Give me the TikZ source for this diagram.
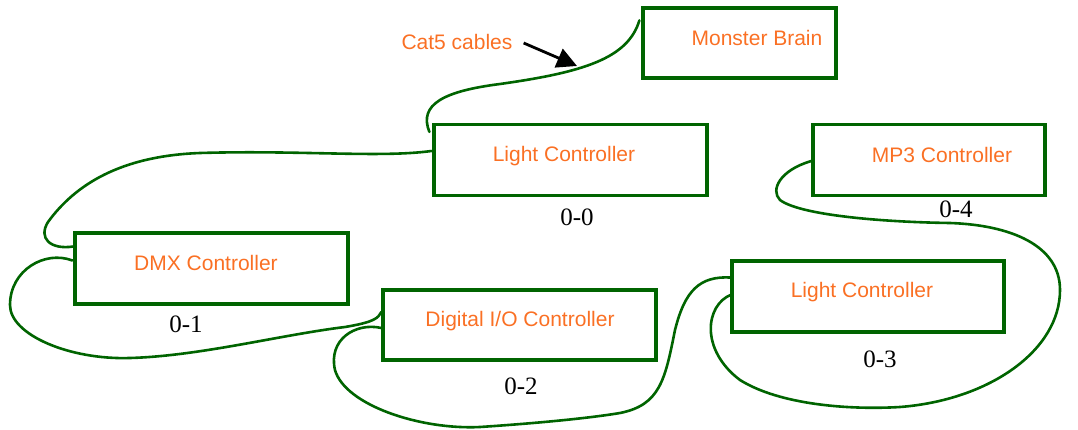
\documentclass[tikz,border=0pt]{standalone}
\usepackage{fontspec}
\setmainfont{Liberation Serif}
\newfontfamily\arialfont{Liberation Sans}
\usetikzlibrary{calc,arrows.meta}
\definecolor{boxgreen}{RGB}{0,100,0}
\definecolor{txtorange}{RGB}{250,112,36}
\tikzset{
  unitbox/.style={draw=boxgreen, line width=3.2pt, inner sep=0pt, minimum width=#1},
  unitname/.style={text=txtorange, font=\arialfont\fontsize{21}{25}\selectfont, inner sep=0pt},
  addr/.style={text=black, font=\fontsize{25}{29}\selectfont, inner sep=0pt},
  cable/.style={draw=boxgreen, line width=2.6pt, line cap=round},
  pointer/.style={draw=black, line width=2.8pt, -{Triangle[length=20pt,width=20pt]}}
}
\begin{document}
\begin{tikzpicture}[x=1pt,y=-1pt]
\useasboundingbox (0,0) rectangle (1078,430);

% controller boxes
\node[unitbox=193pt, minimum height=70pt] (mb)  at (739.5,43) {};
\node[unitbox=273pt, minimum height=71pt] (lc0) at (570.5,160) {};
\node[unitbox=232pt, minimum height=71pt] (mp3) at (929,160) {};
\node[unitbox=273pt, minimum height=71pt] (dmx) at (211.5,268.5) {};
\node[unitbox=273pt, minimum height=70pt] (dio) at (519.5,325) {};
\node[unitbox=272pt, minimum height=71pt] (lc3) at (868,296.5) {};

% box titles
\node[unitname] (tmb)  at (757,38)  {Monster Brain};
\node[unitname] (tlc0) at (564,156) {Light Controller};
\node[unitname] (tmp3) at (942,155) {MP3 Controller};
\node[unitname] (tdmx) at (206,263) {DMX Controller};
\node[unitname] (tdio) at (520,321) {Digital I/O Controller};
\node[unitname] (tlc3) at (862,292) {Light Controller};

% bus addresses
\node[addr] (a0) at (577,217) {0-0};
\node[addr] (a1) at (186,324) {0-1};
\node[addr] (a2) at (521,386) {0-2};
\node[addr] (a3) at (880,359) {0-3};
\node[addr] (a4) at (956,209) {0-4};

% annotation
\node[unitname] (cat) at (457,42) {Cat5 cables};
\coordinate (catend) at (577,66);
\draw[pointer] ($(cat.east)+(11,1)$) -- (catend);

% daisy-chained cables
\draw[cable] ($(mb.north west)+(-2,14)$)
  .. controls (628,58) and (585,72) .. (500,84)
  .. controls (445,91) and (418,104) .. ($(lc0.north west)+(-3,9)$);

\draw[cable] ($(lc0.west)+(-1,-9)$)
  .. controls (380,158) and (300,150) .. (200,153)
  .. controls (120,156) and (75,185) .. (48,222)
  .. controls (38,238) and (50,250) .. ($(dmx.west)+(0,-22)$);

\draw[cable] ($(dmx.west)+(-1,-8)$)
  .. controls (45,250) and (10,270) .. (10,305)
  .. controls (10,335) and (70,360) .. (130,358)
  .. controls (200,356) and (280,335) .. (345,327)
  .. controls (375,322) and (378,318) .. ($(dio.west)+(0,-13)$);

\draw[cable] ($(dio.west)+(0,3)$)
  .. controls (355,322) and (328,340) .. (335,370)
  .. controls (345,405) and (420,430) .. (480,427)
  .. controls (540,423) and (590,418) .. (620,413)
  .. controls (660,405) and (665,380) .. (675,330)
  .. controls (685,290) and (700,276) .. ($(lc3.west)+(0,-19)$);

\draw[cable] ($(lc3.west)+(1,-2)$)
  .. controls (705,305) and (700,350) .. (740,380)
  .. controls (780,405) and (850,410) .. (900,407)
  .. controls (990,400) and (1060,350) .. (1060,290)
  .. controls (1060,245) and (1010,225) .. (950,223)
  .. controls (880,222) and (800,215) .. (780,200)
  .. controls (770,190) and (780,170) .. ($(mp3.west)+(0,1)$);
\end{tikzpicture}
\end{document}
